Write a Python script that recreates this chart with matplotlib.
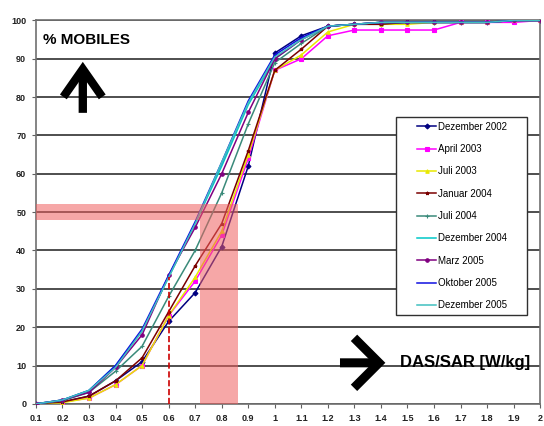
import matplotlib
matplotlib.use("Agg")
import matplotlib.pyplot as plt
from matplotlib.patches import Rectangle

# DAS/SAR classes (W/kg)
das = [0.1, 0.2, 0.3, 0.4, 0.5, 0.6, 0.7, 0.8, 0.9, 1.0,
       1.1, 1.2, 1.3, 1.4, 1.5, 1.6, 1.7, 1.8, 1.9, 2.0]
x_labels = ["0.1", "0.2", "0.3", "0.4", "0.5", "0.6", "0.7", "0.8", "0.9", "1",
            "1.1", "1.2", "1.3", "1.4", "1.5", "1.6", "1.7", "1.8", "1.9", "2"]

# cumulative share of mobiles (%)
dez_2002 = [0, 0.5, 2, 6, 11, 21.5, 29, 41, 62, 91.5, 96, 98.5, 99, 99, 99.5, 99.5, 99.5, 99.5, 100, 100]
apr_2003 = [0, 0.5, 1.5, 5, 10, 23, 32, 44, 64, 87, 90, 96, 97.5, 97.5, 97.5, 97.5, 99.5, 99.5, 99.5, 100]
jul_2003 = [0, 0.3, 1.5, 5, 10, 23, 33, 45, 65, 87, 91, 97, 99, 99, 99, 99.5, 99.5, 99.5, 100, 100]
jan_2004 = [0, 0.5, 2, 6, 12, 24, 36, 47, 66, 87, 92.5, 98.5, 99, 99, 99.5, 99.5, 99.5, 99.5, 100, 100]
jul_2004 = [0, 0.8, 3, 8.5, 15, 28, 40, 55, 73, 89, 94, 98.5, 99, 99.5, 99.5, 99.5, 99.5, 99.5, 100, 100]
dez_2004 = [0, 1, 3.5, 10, 19, 33, 47, 62, 78, 90, 95, 98.5, 99, 99.5, 99.5, 99.5, 99.5, 99.5, 100, 100]
mar_2005 = [0, 1, 3, 9.5, 18, 33.5, 46, 60, 76, 90, 95, 98.5, 99, 99.5, 99.5, 99.5, 99.5, 99.5, 100, 100]
okt_2005 = [0, 1, 3.5, 10, 19.5, 33.5, 47.5, 63, 79, 91, 95.5, 98.5, 99, 99.5, 99.5, 99.5, 99.5, 99.5, 100, 100]
dez_2005 = [0, 1, 3.5, 9.5, 19, 33, 47, 63, 78.5, 90.5, 95, 98.5, 99, 99.5, 99.5, 99.5, 99.5, 99.5, 100, 100]

series = [
    ("Dezember 2002", dez_2002, "#000080", "D"),
    ("April 2003", apr_2003, "#ff00ff", "s"),
    ("Juli 2003", jul_2003, "#e8e800", "^"),
    ("Januar 2004", jan_2004, "#7a0000", "*"),
    ("Juli 2004", jul_2004, "#3a8a7a", "+"),
    ("Dezember 2004", dez_2004, "#00c8c8", None),
    ("Marz 2005", mar_2005, "#800080", "o"),
    ("Oktober 2005", okt_2005, "#1010e0", None),
    ("Dezember 2005", dez_2005, "#40c0c0", None),
]

# highlighted zones
band_y = (48, 52)
band_x = (0.72, 0.86)
median_x = 0.6
median_top = 33

font = ["Liberation Sans", "DejaVu Sans"]
plt.rcParams["font.family"] = font

fig = plt.figure(figsize=(5.44, 4.26), dpi=100)
ax = fig.add_axes([0.066, 0.052, 0.927, 0.9])

for name, vals, col, mk in series:
    ax.plot(das, vals, color=col, lw=1.1, marker=mk, ms=2.5, mew=0.8,
            label=name, zorder=3)

# red highlight bands
shade = "#f06060"
ax.fill([das[0], band_x[1], band_x[1], das[0]],
        [band_y[0], band_y[0], band_y[1], band_y[1]],
        color=shade, alpha=0.55, lw=0, zorder=4)
ax.fill([band_x[0], band_x[1], band_x[1], band_x[0]],
        [0, 0, band_y[0], band_y[0]],
        color=shade, alpha=0.55, lw=0, zorder=4)
ax.plot([median_x, median_x], [0, median_top], color="#cc0000", ls="--",
        lw=1.2, zorder=5)

ax.set_xlim(das[0], das[-1])
ax.set_ylim(0, 100)
ax.set_xticks(das)
ax.set_xticklabels(x_labels)
ax.set_yticks(range(0, 101, 10))
ax.tick_params(labelsize=6.5, length=3, color="#606060", labelcolor="#202020",
               pad=4)
for lab in ax.get_xticklabels() + ax.get_yticklabels():
    lab.set_fontweight("bold")
ax.yaxis.grid(True, color="#404040", lw=1.3, zorder=1)
ax.set_axisbelow(True)
for sp in ax.spines.values():
    sp.set_color("#707070")
    sp.set_linewidth(1.2)

# legend with its own frame
ax.add_patch(Rectangle((0.714, 0.232), 0.26, 0.516, transform=ax.transAxes,
                       facecolor="white", edgecolor="#303030", lw=1.0,
                       zorder=6))
leg = ax.legend(loc="center", bbox_to_anchor=(0.845, 0.49), frameon=False,
                prop={"size": 7}, labelspacing=1.27, handlelength=1.9,
                handletextpad=0.2, borderpad=0.2)
leg.set_zorder(7)

ax.text(0.014, 0.949, "% MOBILES", transform=ax.transAxes, fontsize=11,
        fontweight="bold", va="center", ha="left", zorder=8)
ax.annotate("", xy=(0.093, 0.892), xytext=(0.093, 0.759),
            xycoords="axes fraction", textcoords="axes fraction",
            arrowprops=dict(arrowstyle="->,head_length=1.0,head_width=0.7",
                            lw=6, color="black", shrinkA=0, shrinkB=0,
                            mutation_scale=20, capstyle="butt",
                            joinstyle="miter"))
ax.annotate("", xy=(0.693, 0.107), xytext=(0.603, 0.107),
            xycoords="axes fraction", textcoords="axes fraction",
            arrowprops=dict(arrowstyle="->,head_length=0.9,head_width=0.9",
                            lw=6.5, color="black", shrinkA=0, shrinkB=0,
                            mutation_scale=20, capstyle="butt",
                            joinstyle="miter"))
ax.text(0.722, 0.107, "DAS/SAR [W/kg]", transform=ax.transAxes, fontsize=12,
        fontweight="bold", va="center", ha="left", zorder=8)

fig.savefig("out.png", dpi=100)
